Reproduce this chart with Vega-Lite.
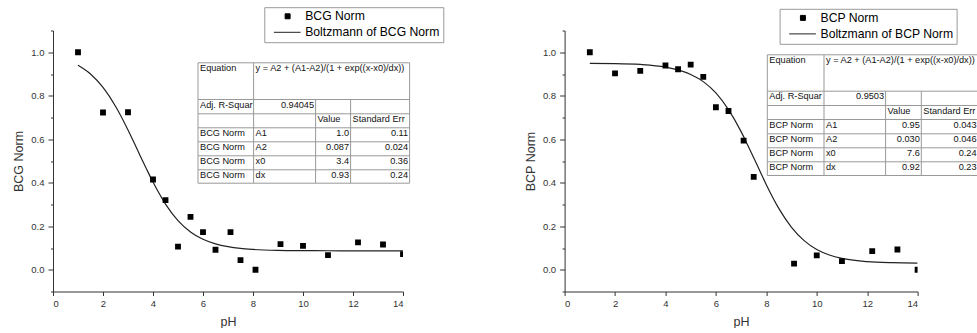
{
  "$schema": "https://vega.github.io/schema/vega-lite/v6.json",
  "padding": {"left": 12, "top": 6.5, "right": 0, "bottom": 0},
  "bounds": "flush",
  "spacing": 161.6,
  "config": {
    "view": {"stroke": null},
    "font": "Liberation Sans",
    "axis": {
      "grid": false,
      "domainColor": "#333",
      "tickColor": "#333",
      "labelColor": "#333",
      "labelFont": "Liberation Sans",
      "labelFontSize": 9.5,
      "labelOverlap": false,
      "titleFont": "Liberation Sans",
      "titleFontSize": 12.5,
      "titleFontWeight": "normal",
      "titleColor": "#333",
      "domainWidth": 1,
      "tickWidth": 1
    },
    "legend": {
      "title": null,
      "orient": "none",
      "strokeColor": "#999",
      "fillColor": "white",
      "padding": 3,
      "symbolSize": 49,
      "labelOffset": 25.7,
      "labelFontSize": 12.2,
      "labelFont": "Liberation Sans",
      "labelColor": "black",
      "rowPadding": 3
    }
  },
  "datasets": {
    "bcgPoints": [
      {"ph": 1, "norm": 1.0, "series": "BCG Norm"},
      {"ph": 2, "norm": 0.723, "series": "BCG Norm"},
      {"ph": 3, "norm": 0.724, "series": "BCG Norm"},
      {"ph": 4, "norm": 0.415, "series": "BCG Norm"},
      {"ph": 4.5, "norm": 0.32, "series": "BCG Norm"},
      {"ph": 5, "norm": 0.106, "series": "BCG Norm"},
      {"ph": 5.5, "norm": 0.243, "series": "BCG Norm"},
      {"ph": 6, "norm": 0.173, "series": "BCG Norm"},
      {"ph": 6.5, "norm": 0.092, "series": "BCG Norm"},
      {"ph": 7.1, "norm": 0.173, "series": "BCG Norm"},
      {"ph": 7.5, "norm": 0.044, "series": "BCG Norm"},
      {"ph": 8.1, "norm": 0.0, "series": "BCG Norm"},
      {"ph": 9.1, "norm": 0.118, "series": "BCG Norm"},
      {"ph": 10, "norm": 0.11, "series": "BCG Norm"},
      {"ph": 11, "norm": 0.067, "series": "BCG Norm"},
      {"ph": 12.2, "norm": 0.126, "series": "BCG Norm"},
      {"ph": 13.2, "norm": 0.116, "series": "BCG Norm"},
      {"ph": 14, "norm": 0.072, "series": "BCG Norm"}
    ],
    "bcgCurve": [
      {"ph": 1, "norm": 0.94, "series": "Boltzmann of BCG Norm"},
      {"ph": 1.5, "norm": 0.9, "series": "Boltzmann of BCG Norm"},
      {"ph": 2, "norm": 0.838, "series": "Boltzmann of BCG Norm"},
      {"ph": 2.5, "norm": 0.752, "series": "Boltzmann of BCG Norm"},
      {"ph": 3, "norm": 0.643, "series": "Boltzmann of BCG Norm"},
      {"ph": 3.25, "norm": 0.583, "series": "Boltzmann of BCG Norm"},
      {"ph": 3.5, "norm": 0.521, "series": "Boltzmann of BCG Norm"},
      {"ph": 3.75, "norm": 0.461, "series": "Boltzmann of BCG Norm"},
      {"ph": 4, "norm": 0.403, "series": "Boltzmann of BCG Norm"},
      {"ph": 4.5, "norm": 0.302, "series": "Boltzmann of BCG Norm"},
      {"ph": 5, "norm": 0.226, "series": "Boltzmann of BCG Norm"},
      {"ph": 5.5, "norm": 0.174, "series": "Boltzmann of BCG Norm"},
      {"ph": 6, "norm": 0.14, "series": "Boltzmann of BCG Norm"},
      {"ph": 6.5, "norm": 0.119, "series": "Boltzmann of BCG Norm"},
      {"ph": 7, "norm": 0.106, "series": "Boltzmann of BCG Norm"},
      {"ph": 7.5, "norm": 0.098, "series": "Boltzmann of BCG Norm"},
      {"ph": 8, "norm": 0.0935, "series": "Boltzmann of BCG Norm"},
      {"ph": 9, "norm": 0.0892, "series": "Boltzmann of BCG Norm"},
      {"ph": 10, "norm": 0.0878, "series": "Boltzmann of BCG Norm"},
      {"ph": 11, "norm": 0.0873, "series": "Boltzmann of BCG Norm"},
      {"ph": 12, "norm": 0.0871, "series": "Boltzmann of BCG Norm"},
      {"ph": 14, "norm": 0.087, "series": "Boltzmann of BCG Norm"}
    ],
    "bcpPoints": [
      {"ph": 1, "norm": 1.0, "series": "BCP Norm"},
      {"ph": 2, "norm": 0.903, "series": "BCP Norm"},
      {"ph": 3, "norm": 0.914, "series": "BCP Norm"},
      {"ph": 4, "norm": 0.939, "series": "BCP Norm"},
      {"ph": 4.5, "norm": 0.922, "series": "BCP Norm"},
      {"ph": 5, "norm": 0.943, "series": "BCP Norm"},
      {"ph": 5.5, "norm": 0.887, "series": "BCP Norm"},
      {"ph": 6, "norm": 0.747, "series": "BCP Norm"},
      {"ph": 6.5, "norm": 0.73, "series": "BCP Norm"},
      {"ph": 7.1, "norm": 0.594, "series": "BCP Norm"},
      {"ph": 7.5, "norm": 0.427, "series": "BCP Norm"},
      {"ph": 9.1, "norm": 0.028, "series": "BCP Norm"},
      {"ph": 10, "norm": 0.066, "series": "BCP Norm"},
      {"ph": 11, "norm": 0.04, "series": "BCP Norm"},
      {"ph": 12.2, "norm": 0.086, "series": "BCP Norm"},
      {"ph": 13.2, "norm": 0.093, "series": "BCP Norm"},
      {"ph": 14, "norm": 0.0, "series": "BCP Norm"}
    ],
    "bcpCurve": [
      {"ph": 1, "norm": 0.949, "series": "Boltzmann of BCP Norm"},
      {"ph": 2, "norm": 0.948, "series": "Boltzmann of BCP Norm"},
      {"ph": 3, "norm": 0.944, "series": "Boltzmann of BCP Norm"},
      {"ph": 4, "norm": 0.932, "series": "Boltzmann of BCP Norm"},
      {"ph": 4.5, "norm": 0.919, "series": "Boltzmann of BCP Norm"},
      {"ph": 5, "norm": 0.898, "series": "Boltzmann of BCP Norm"},
      {"ph": 5.5, "norm": 0.865, "series": "Boltzmann of BCP Norm"},
      {"ph": 6, "norm": 0.813, "series": "Boltzmann of BCP Norm"},
      {"ph": 6.5, "norm": 0.736, "series": "Boltzmann of BCP Norm"},
      {"ph": 7, "norm": 0.635, "series": "Boltzmann of BCP Norm"},
      {"ph": 7.25, "norm": 0.576, "series": "Boltzmann of BCP Norm"},
      {"ph": 7.5, "norm": 0.515, "series": "Boltzmann of BCP Norm"},
      {"ph": 7.75, "norm": 0.453, "series": "Boltzmann of BCP Norm"},
      {"ph": 8, "norm": 0.391, "series": "Boltzmann of BCP Norm"},
      {"ph": 8.5, "norm": 0.281, "series": "Boltzmann of BCP Norm"},
      {"ph": 9, "norm": 0.195, "series": "Boltzmann of BCP Norm"},
      {"ph": 9.5, "norm": 0.134, "series": "Boltzmann of BCP Norm"},
      {"ph": 10, "norm": 0.093, "series": "Boltzmann of BCP Norm"},
      {"ph": 10.5, "norm": 0.068, "series": "Boltzmann of BCP Norm"},
      {"ph": 11, "norm": 0.052, "series": "Boltzmann of BCP Norm"},
      {"ph": 12, "norm": 0.0377, "series": "Boltzmann of BCP Norm"},
      {"ph": 13, "norm": 0.0326, "series": "Boltzmann of BCP Norm"},
      {"ph": 14, "norm": 0.0309, "series": "Boltzmann of BCP Norm"}
    ],
    "grid": [
      {"c": 0, "c2": 4, "r": 0, "r2": 0},
      {"c": 0, "c2": 4, "r": 1, "r2": 1},
      {"c": 0, "c2": 4, "r": 2, "r2": 2},
      {"c": 0, "c2": 4, "r": 3, "r2": 3},
      {"c": 0, "c2": 4, "r": 4, "r2": 4},
      {"c": 0, "c2": 4, "r": 5, "r2": 5},
      {"c": 0, "c2": 4, "r": 6, "r2": 6},
      {"c": 0, "c2": 4, "r": 7, "r2": 7},
      {"c": 0, "c2": 0, "r": 0, "r2": 7},
      {"c": 1, "c2": 1, "r": 0, "r2": 7},
      {"c": 2, "c2": 2, "r": 1, "r2": 7},
      {"c": 3, "c2": 3, "r": 1, "r2": 7},
      {"c": 4, "c2": 4, "r": 0, "r2": 7}
    ],
    "bcgTxt": [
      {"r": 0, "c": 0, "t": "Equation"},
      {"r": 0, "c": 1, "t": "y = A2 + (A1-A2)/(1 + exp((x-x0)/dx))"},
      {"r": 1, "c": 0, "t": "Adj. R-Squar"},
      {"r": 2, "c": 2, "t": "Value"},
      {"r": 2, "c": 3, "t": "Standard Err"},
      {"r": 3, "c": 0, "t": "BCG Norm"},
      {"r": 3, "c": 1, "t": "A1"},
      {"r": 4, "c": 0, "t": "BCG Norm"},
      {"r": 4, "c": 1, "t": "A2"},
      {"r": 5, "c": 0, "t": "BCG Norm"},
      {"r": 5, "c": 1, "t": "x0"},
      {"r": 6, "c": 0, "t": "BCG Norm"},
      {"r": 6, "c": 1, "t": "dx"}
    ],
    "bcgNum": [
      {"r": 1, "c": 2, "t": "0.94045"},
      {"r": 3, "c": 3, "t": "1.0"},
      {"r": 3, "c": 4, "t": "0.11"},
      {"r": 4, "c": 3, "t": "0.087"},
      {"r": 4, "c": 4, "t": "0.024"},
      {"r": 5, "c": 3, "t": "3.4"},
      {"r": 5, "c": 4, "t": "0.36"},
      {"r": 6, "c": 3, "t": "0.93"},
      {"r": 6, "c": 4, "t": "0.24"}
    ],
    "bcpTxt": [
      {"r": 0, "c": 0, "t": "Equation"},
      {"r": 0, "c": 1, "t": "y = A2 + (A1-A2)/(1 + exp((x-x0)/dx))"},
      {"r": 1, "c": 0, "t": "Adj. R-Squar"},
      {"r": 2, "c": 2, "t": "Value"},
      {"r": 2, "c": 3, "t": "Standard Err"},
      {"r": 3, "c": 0, "t": "BCP Norm"},
      {"r": 3, "c": 1, "t": "A1"},
      {"r": 4, "c": 0, "t": "BCP Norm"},
      {"r": 4, "c": 1, "t": "A2"},
      {"r": 5, "c": 0, "t": "BCP Norm"},
      {"r": 5, "c": 1, "t": "x0"},
      {"r": 6, "c": 0, "t": "BCP Norm"},
      {"r": 6, "c": 1, "t": "dx"}
    ],
    "bcpNum": [
      {"r": 1, "c": 2, "t": "0.9503"},
      {"r": 3, "c": 3, "t": "0.95"},
      {"r": 3, "c": 4, "t": "0.043"},
      {"r": 4, "c": 3, "t": "0.030"},
      {"r": 4, "c": 4, "t": "0.046"},
      {"r": 5, "c": 3, "t": "7.6"},
      {"r": 5, "c": 4, "t": "0.24"},
      {"r": 6, "c": 3, "t": "0.92"},
      {"r": 6, "c": 4, "t": "0.23"}
    ]
  },
  "hconcat": [
    {
      "width": 350,
      "height": 261,
      "layer": [
        {
          "layer": [
            {
              "data": {"name": "bcgCurve"},
              "mark": {"type": "line", "strokeWidth": 1.2, "interpolate": "monotone", "clip": true},
              "encoding": {
                "x": {"field": "ph", "type": "quantitative", "title": "pH",
                  "scale": {"domain": [0, 14], "nice": false, "zero": false},
                  "axis": {"values": [0,1,2,3,4,5,6,7,8,9,10,11,12,13,14],
                    "labelExpr": "datum.value % 2 === 0 ? datum.label : ''",
                    "tickSize": {"condition": {"test": "datum.value % 2 === 0", "value": 4}, "value": 2},
                    "labelPadding": 3, "titlePadding": 7}},
                "y": {"field": "norm", "type": "quantitative", "title": "BCG Norm",
                  "scale": {"domain": [-0.1, 1.1], "nice": false, "zero": false},
                  "axis": {"orient": "left", "values": [0, 0.2, 0.4, 0.6, 0.8, 1.0],
                    "format": ".1f", "tickSize": 5,
                    "labelPadding": 4, "titlePadding": 5}},
                "color": {"field": "series", "type": "nominal",
                  "scale": {"domain": ["BCG Norm", "Boltzmann of BCG Norm"], "range": ["black", "#222"]},
                  "legend": {"legendX": 211.3, "legendY": -23.3,
                    "encode": {"symbols": {"update": {
                      "shape": {"signal": "datum.value === 'BCG Norm' ? 'M3.35,-0.71H4.77V0.71H3.35Z' : 'M0.14,0H7.77'"},
                      "fill": {"value": "black"}, "stroke": {"value": "black"},
                      "strokeWidth": {"value": 1}, "size": {"value": 49}, "opacity": {"value": 1}}}}}}
              }
            },
            {
              "data": {"name": "bcgPoints"},
              "mark": {"type": "point", "shape": "square", "filled": true, "size": 34, "opacity": 1, "clip": true},
              "encoding": {
                "x": {"field": "ph", "type": "quantitative"},
                "y": {"field": "norm", "type": "quantitative",
                  "axis": {"orient": "left", "values": [-0.1, 0.1, 0.3, 0.5, 0.7, 0.9, 1.1],
                    "labels": false, "domain": false, "tickSize": 2.5, "title": null}},
                "color": {"field": "series", "type": "nominal"}
              }
            }
          ],
          "resolve": {"axis": {"y": "independent"}}
        },
        {
          "layer": [
            {
              "data": {"name": "grid"},
              "mark": {"type": "rule", "color": "#999", "strokeWidth": 1},
              "encoding": {
                "x": {"field": "c", "type": "quantitative", "axis": null,
                  "scale": {"domain": [0, 1, 2, 3, 4], "range": [145, 200.6, 262.6, 297.6, 356.6], "zero": false, "nice": false}},
                "x2": {"field": "c2"},
                "y": {"field": "r", "type": "quantitative", "axis": null,
                  "scale": {"domain": [0, 1, 2, 3, 4, 5, 6, 7], "range": [32.3, 69, 83.3, 97.3, 111.3, 125.3, 139.3, 152.7], "zero": false, "nice": false}},
                "y2": {"field": "r2"}
              }
            },
            {
              "data": {"name": "bcgTxt"},
              "mark": {"type": "text", "align": "left", "baseline": "top", "dx": 2, "dy": 1.2, "fontSize": 9.2, "font": "Liberation Sans", "color": "#111"},
              "encoding": {
                "x": {"field": "c", "type": "quantitative"},
                "y": {"field": "r", "type": "quantitative"},
                "text": {"field": "t"}
              }
            },
            {
              "data": {"name": "bcgNum"},
              "mark": {"type": "text", "align": "right", "baseline": "top", "dx": -1.5, "dy": 1.2, "fontSize": 9.2, "font": "Liberation Sans", "color": "#111"},
              "encoding": {
                "x": {"field": "c", "type": "quantitative"},
                "y": {"field": "r", "type": "quantitative"},
                "text": {"field": "t"}
              }
            }
          ]
        }
      ],
      "resolve": {"scale": {"x": "independent", "y": "independent"}}
    },
    {
      "width": 353,
      "height": 261,
      "layer": [
        {
          "layer": [
            {
              "data": {"name": "bcpCurve"},
              "mark": {"type": "line", "strokeWidth": 1.2, "interpolate": "monotone", "clip": true},
              "encoding": {
                "x": {"field": "ph", "type": "quantitative", "title": "pH",
                  "scale": {"domain": [0, 14], "nice": false, "zero": false},
                  "axis": {"values": [0,1,2,3,4,5,6,7,8,9,10,11,12,13,14],
                    "labelExpr": "datum.value % 2 === 0 ? datum.label : ''",
                    "tickSize": {"condition": {"test": "datum.value % 2 === 0", "value": 4}, "value": 2},
                    "labelPadding": 3, "titlePadding": 7}},
                "y": {"field": "norm", "type": "quantitative", "title": "BCP Norm",
                  "scale": {"domain": [-0.1, 1.1], "nice": false, "zero": false},
                  "axis": {"orient": "left", "values": [0, 0.2, 0.4, 0.6, 0.8, 1.0],
                    "format": ".1f", "tickSize": 5,
                    "labelPadding": 4, "titlePadding": 5}},
                "color": {"field": "series", "type": "nominal",
                  "scale": {"domain": ["BCP Norm", "Boltzmann of BCP Norm"], "range": ["black", "#222"]},
                  "legend": {"legendX": 215, "legendY": -21.7,
                    "encode": {"symbols": {"update": {
                      "shape": {"signal": "datum.value === 'BCP Norm' ? 'M3.35,-0.71H4.77V0.71H3.35Z' : 'M0.14,0H7.77'"},
                      "fill": {"value": "black"}, "stroke": {"value": "black"},
                      "strokeWidth": {"value": 1}, "size": {"value": 49}, "opacity": {"value": 1}}}}}}
              }
            },
            {
              "data": {"name": "bcpPoints"},
              "mark": {"type": "point", "shape": "square", "filled": true, "size": 34, "opacity": 1, "clip": true},
              "encoding": {
                "x": {"field": "ph", "type": "quantitative"},
                "y": {"field": "norm", "type": "quantitative",
                  "axis": {"orient": "left", "values": [-0.1, 0.1, 0.3, 0.5, 0.7, 0.9, 1.1],
                    "labels": false, "domain": false, "tickSize": 2.5, "title": null}},
                "color": {"field": "series", "type": "nominal"}
              }
            }
          ],
          "resolve": {"axis": {"y": "independent"}}
        },
        {
          "layer": [
            {
              "data": {"name": "grid"},
              "mark": {"type": "rule", "color": "#999", "strokeWidth": 1},
              "encoding": {
                "x": {"field": "c", "type": "quantitative", "axis": null,
                  "scale": {"domain": [0, 1, 2, 3, 4], "range": [202.7, 259.4, 321, 356.7, 413.5], "zero": false, "nice": false}},
                "x2": {"field": "c2"},
                "y": {"field": "r", "type": "quantitative", "axis": null,
                  "scale": {"domain": [0, 1, 2, 3, 4, 5, 6, 7], "range": [24.3, 60.7, 75, 89, 103.3, 117.3, 131.3, 145], "zero": false, "nice": false}},
                "y2": {"field": "r2"}
              }
            },
            {
              "data": {"name": "bcpTxt"},
              "mark": {"type": "text", "align": "left", "baseline": "top", "dx": 2, "dy": 1.2, "fontSize": 9.2, "font": "Liberation Sans", "color": "#111"},
              "encoding": {
                "x": {"field": "c", "type": "quantitative"},
                "y": {"field": "r", "type": "quantitative"},
                "text": {"field": "t"}
              }
            },
            {
              "data": {"name": "bcpNum"},
              "mark": {"type": "text", "align": "right", "baseline": "top", "dx": -1.5, "dy": 1.2, "fontSize": 9.2, "font": "Liberation Sans", "color": "#111"},
              "encoding": {
                "x": {"field": "c", "type": "quantitative"},
                "y": {"field": "r", "type": "quantitative"},
                "text": {"field": "t"}
              }
            }
          ]
        }
      ],
      "resolve": {"scale": {"x": "independent", "y": "independent"}}
    }
  ],
  "resolve": {"scale": {"color": "independent"}, "legend": {"color": "independent"}}
}
